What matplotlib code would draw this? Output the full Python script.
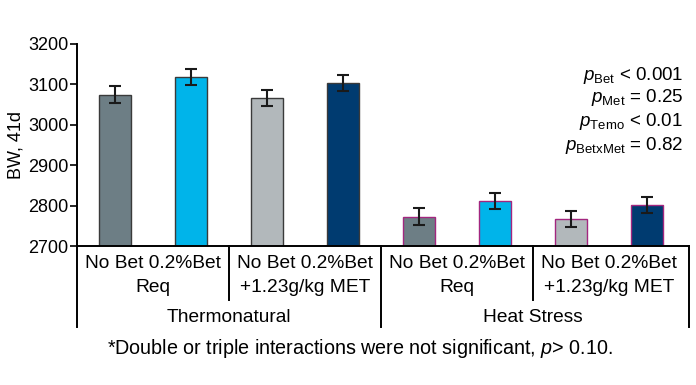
import matplotlib.pyplot as plt
import matplotlib.transforms as mtransforms

plt.rcParams['font.family'] = ['Liberation Sans', 'DejaVu Sans']
plt.rcParams['mathtext.fontset'] = 'custom'
plt.rcParams['mathtext.rm'] = 'Liberation Sans'
plt.rcParams['mathtext.it'] = 'Liberation Sans:italic'

# datos
tratamientos = ['No Bet', '0.2%Bet', 'No Bet', '0.2%Bet', 'No Bet', '0.2%Bet', 'No Bet', '0.2%Bet']
bw = [3074, 3119, 3066, 3104, 2773, 2812, 2767, 2802]
err = [21, 20, 20, 20, 20, 20, 20, 20]
colores = ['#6d7e85', '#00b4ea', '#b2b8bb', '#003b70'] * 2
bordes = ['#3a3a3a'] * 4 + ['#a3267f'] * 4
pares = ['Req', '+1.23g/kg MET', 'Req', '+1.23g/kg MET']
ambientes = ['Thermonatural', 'Heat Stress']
pvalores = [('Bet', '< 0.001'), ('Met', '= 0.25'), ('Temo', '< 0.01'), ('BetxMet', '= 0.82')]

fig = plt.figure(figsize=(6.96, 3.85), dpi=100)
ax = fig.add_axes([0.1106, 0.361, 0.879, 0.525])

x = list(range(len(bw)))
ax.bar(x, [v - 2700 for v in bw], bottom=2700, width=0.41, color=colores,
       edgecolor=bordes, linewidth=1, zorder=2)
ax.errorbar(x, bw, yerr=err, fmt='none', ecolor='#1a1a1a', elinewidth=1.5,
            capsize=4.5, capthick=1.5, zorder=3)

ax.set_xlim(-0.5, 7.55)
ax.set_ylim(2700, 3200)
ax.set_yticks([2700, 2800, 2900, 3000, 3100, 3200])
ax.tick_params(axis='y', labelsize=13, length=5, width=1.2, direction='out', pad=1)
ax.set_xticks([])
ax.set_ylabel('BW, 41d', fontsize=13, labelpad=3)
for s in ['top', 'right']:
    ax.spines[s].set_visible(False)
ax.spines['left'].set_linewidth(1.4)
ax.spines['bottom'].set_linewidth(1.4)

# ejes de categorias bajo el grafico
trans = mtransforms.blended_transform_factory(ax.transData, ax.transAxes)
for xs in [-0.5, 3.5, 7.55]:
    ax.plot([xs, xs], [0, -0.40], color='black', lw=1.4, transform=trans, clip_on=False)
for xs in [1.5, 5.5]:
    ax.plot([xs, xs], [0, -0.267], color='black', lw=1.4, transform=trans, clip_on=False)

for i, etiqueta in enumerate(pares):
    xc = 2 * i + 0.5
    ax.text(xc, -0.086, tratamientos[2 * i] + ' ' + tratamientos[2 * i + 1], transform=trans,
            ha='center', va='center', fontsize=13.8)
    ax.text(xc, -0.207, etiqueta, transform=trans, ha='center', va='center', fontsize=13.8)

for i, amb in enumerate(ambientes):
    ax.text(4 * i + 1.5, -0.355, amb, transform=trans, ha='center', va='center', fontsize=13.8)

# valores p
ys = [75, 97, 121, 146]
for (sub, val), yp in zip(pvalores, ys):
    fig.text(683 / 696, 1 - yp / 385, r'$p_{\mathrm{' + sub + '}}$ ' + val,
             ha='right', va='center', fontsize=13.5)

fig.text(360 / 696, 1 - 349 / 385,
         r'*Double or triple interactions were not significant, $p$> 0.10.',
         ha='center', va='center', fontsize=14.2)

fig.savefig('out.png', dpi=100)
